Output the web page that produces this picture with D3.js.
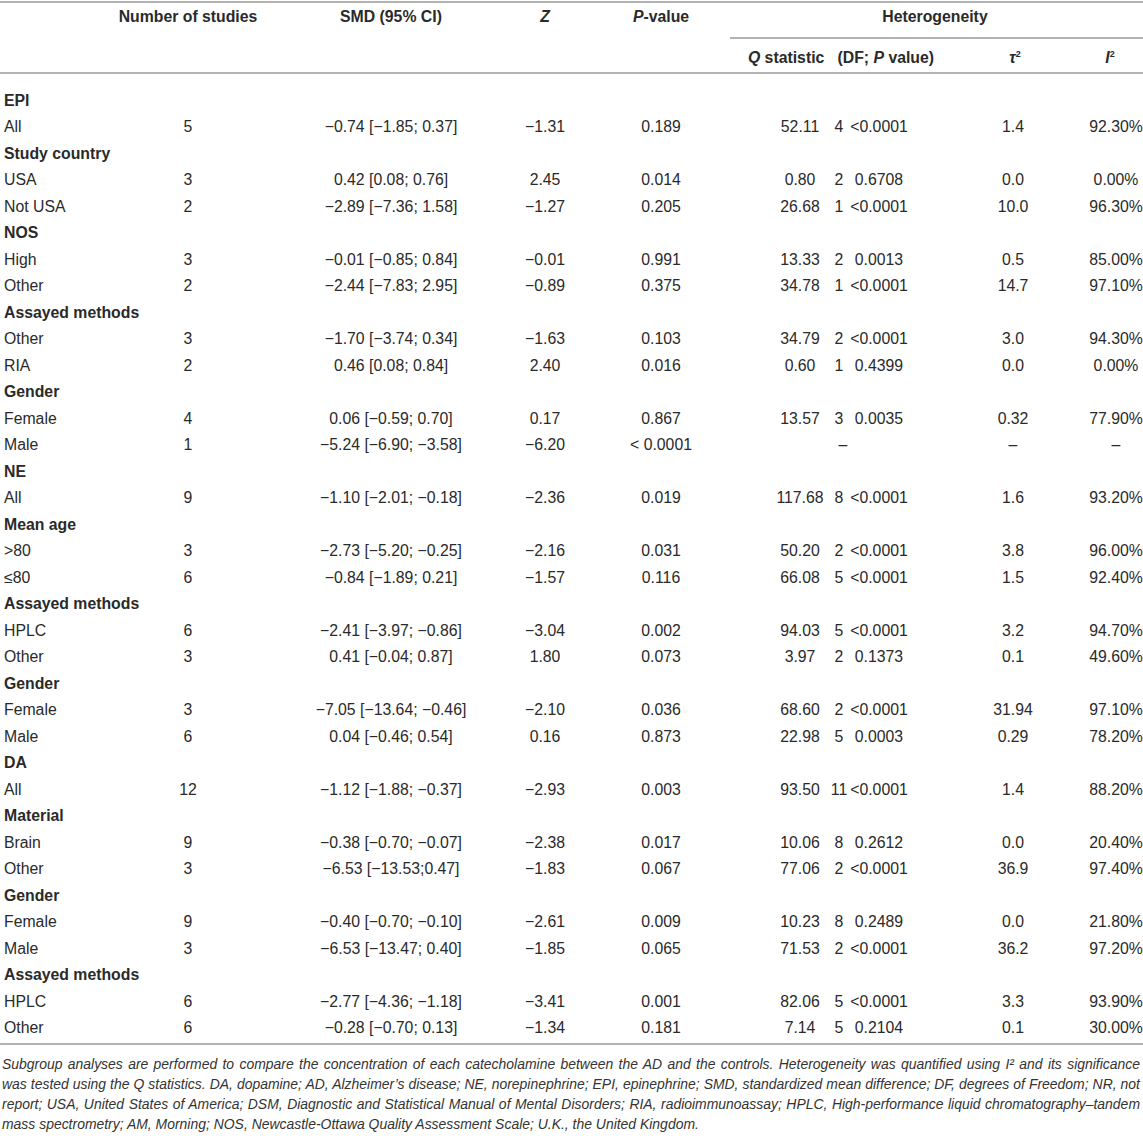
<!DOCTYPE html>
<html>
<head>
<meta charset="utf-8">
<script src="https://cdn.jsdelivr.net/npm/d3@7"></script>
<style>
  html, body { margin: 0; padding: 0; background: #ffffff; }
  svg { display: block; font-family: "Liberation Sans", Arial, Helvetica, sans-serif; }
</style>
</head>
<body>
<div id="table-container"></div>
<script>
// Subgroup analyses table: EPI / NE / DA
// group rows carry an empty string in every value column

var rowLabels = [
    "EPI", "All",
    "Study country", "USA", "Not USA",
    "NOS", "High", "Other",
    "Assayed methods", "Other", "RIA",
    "Gender", "Female", "Male",
    "NE", "All",
    "Mean age", ">80", "\u226480",
    "Assayed methods", "HPLC", "Other",
    "Gender", "Female", "Male",
    "DA", "All",
    "Material", "Brain", "Other",
    "Gender", "Female", "Male",
    "Assayed methods", "HPLC", "Other"
];

var groupRows = [0, 2, 5, 8, 11, 14, 16, 19, 22, 25, 27, 30, 33];

var nStudies = ["", "5", "", "3", "2", "", "3", "2", "", "3", "2", "", "4", "1",
    "", "9", "", "3", "6", "", "6", "3", "", "3", "6",
    "", "12", "", "9", "3", "", "9", "3", "", "6", "6"];

var smdCI = ["", "\u22120.74 [\u22121.85; 0.37]",
    "", "0.42 [0.08; 0.76]", "\u22122.89 [\u22127.36; 1.58]",
    "", "\u22120.01 [\u22120.85; 0.84]", "\u22122.44 [\u22127.83; 2.95]",
    "", "\u22121.70 [\u22123.74; 0.34]", "0.46 [0.08; 0.84]",
    "", "0.06 [\u22120.59; 0.70]", "\u22125.24 [\u22126.90; \u22123.58]",
    "", "\u22121.10 [\u22122.01; \u22120.18]",
    "", "\u22122.73 [\u22125.20; \u22120.25]", "\u22120.84 [\u22121.89; 0.21]",
    "", "\u22122.41 [\u22123.97; \u22120.86]", "0.41 [\u22120.04; 0.87]",
    "", "\u22127.05 [\u221213.64; \u22120.46]", "0.04 [\u22120.46; 0.54]",
    "", "\u22121.12 [\u22121.88; \u22120.37]",
    "", "\u22120.38 [\u22120.70; \u22120.07]", "\u22126.53 [\u221213.53;0.47]",
    "", "\u22120.40 [\u22120.70; \u22120.10]", "\u22126.53 [\u221213.47; 0.40]",
    "", "\u22122.77 [\u22124.36; \u22121.18]", "\u22120.28 [\u22120.70; 0.13]"];

var zValues = ["", "\u22121.31", "", "2.45", "\u22121.27", "", "\u22120.01", "\u22120.89",
    "", "\u22121.63", "2.40", "", "0.17", "\u22126.20",
    "", "\u22122.36", "", "\u22122.16", "\u22121.57", "", "\u22123.04", "1.80",
    "", "\u22122.10", "0.16",
    "", "\u22122.93", "", "\u22122.38", "\u22121.83", "", "\u22122.61", "\u22121.85",
    "", "\u22123.41", "\u22121.34"];

var pValues = ["", "0.189", "", "0.014", "0.205", "", "0.991", "0.375",
    "", "0.103", "0.016", "", "0.867", "< 0.0001",
    "", "0.019", "", "0.031", "0.116", "", "0.002", "0.073", "", "0.036", "0.873",
    "", "0.003", "", "0.017", "0.067", "", "0.009", "0.065", "", "0.001", "0.181"];

var qStat = ["", "52.11", "", "0.80", "26.68", "", "13.33", "34.78",
    "", "34.79", "0.60", "", "13.57", "",
    "", "117.68", "", "50.20", "66.08", "", "94.03", "3.97", "", "68.60", "22.98",
    "", "93.50", "", "10.06", "77.06", "", "10.23", "71.53", "", "82.06", "7.14"];

var dfValues = ["", "4", "", "2", "1", "", "2", "1", "", "2", "1", "", "3", "\u2013",
    "", "8", "", "2", "5", "", "5", "2", "", "2", "5",
    "", "11", "", "8", "2", "", "8", "2", "", "5", "5"];

var qPValues = ["", "<0.0001", "", "0.6708", "<0.0001", "", "0.0013", "<0.0001",
    "", "<0.0001", "0.4399", "", "0.0035", "",
    "", "<0.0001", "", "<0.0001", "<0.0001", "", "<0.0001", "0.1373", "", "<0.0001", "0.0003",
    "", "<0.0001", "", "0.2612", "<0.0001", "", "0.2489", "<0.0001", "", "<0.0001", "0.2104"];

var tauValues = ["", "1.4", "", "0.0", "10.0", "", "0.5", "14.7", "", "3.0", "0.0", "", "0.32", "\u2013",
    "", "1.6", "", "3.8", "1.5", "", "3.2", "0.1", "", "31.94", "0.29",
    "", "1.4", "", "0.0", "36.9", "", "0.0", "36.2", "", "3.3", "0.1"];

var i2Values = ["", "92.30%", "", "0.00%", "96.30%", "", "85.00%", "97.10%",
    "", "94.30%", "0.00%", "", "77.90%", "\u2013",
    "", "93.20%", "", "96.00%", "92.40%", "", "94.70%", "49.60%", "", "97.10%", "78.20%",
    "", "88.20%", "", "20.40%", "97.40%", "", "21.80%", "97.20%", "", "93.90%", "30.00%"];

var footnoteLines = [
    "Subgroup analyses are performed to compare the concentration of each catecholamine between the AD and the controls. Heterogeneity was quantified using I\u00b2 and its significance",
    "was tested using the Q statistics. DA, dopamine; AD, Alzheimer\u2019s disease; NE, norepinephrine; EPI, epinephrine; SMD, standardized mean difference; DF, degrees of Freedom; NR, not",
    "report; USA, United States of America; DSM, Diagnostic and Statistical Manual of Mental Disorders; RIA, radioimmunoassay; HPLC, High-performance liquid chromatography\u2013tandem",
    "mass spectrometry; AM, Morning; NOS, Newcastle-Ottawa Quality Assessment Scale; U.K., the United Kingdom."
];

(function() {

    var width = 1143;
    var height = 1140;
    var textColor = "#2a2a2a";
    var ruleColor = "#b3b3b3";
    var bodySize = "15.8px";

    var svg = d3.select("#table-container")
        .append("svg")
        .attr("width", width)
        .attr("height", height);

    // Column positions
    var columnKeys = ["label", "n", "smd", "z", "p", "q", "df", "qp", "tau", "i2"];
    var columnX = d3.scaleOrdinal()
        .domain(columnKeys)
        .range([4, 188, 391, 545, 661, 800, 839, 879, 1013, 1116]);

    // Row positions
    var rowIndex = d3.range(rowLabels.length);
    var y = d3.scaleBand()
        .domain(rowIndex)
        .range([87, 87 + 26.5 * rowLabels.length]);

    function rowY(i) {
        return y(i) + y.bandwidth() / 2 + 5.5;
    }

    // Rules
    function rule(x1, x2, yy) {
        svg.append("line")
            .attr("x1", x1).attr("x2", x2)
            .attr("y1", yy).attr("y2", yy)
            .attr("stroke", ruleColor)
            .attr("stroke-width", 2);
    }

    rule(0, width, 2);
    rule(730, width, 38);
    rule(0, width, 73);
    var tableBottom = y.range()[1] + 3;
    rule(0, width, tableBottom);

    // Header
    var header = svg.append("g")
        .attr("font-size", bodySize)
        .attr("font-weight", "bold")
        .attr("fill", textColor)
        .attr("text-anchor", "middle");

    header.append("text")
        .attr("x", columnX("n")).attr("y", 22)
        .text("Number of studies");

    header.append("text")
        .attr("x", columnX("smd")).attr("y", 22)
        .text("SMD (95% CI)");

    header.append("text")
        .attr("x", columnX("z")).attr("y", 22)
        .attr("font-style", "italic")
        .text("Z");

    var pHead = header.append("text")
        .attr("x", columnX("p")).attr("y", 22);
    pHead.append("tspan").attr("font-style", "italic").text("P");
    pHead.append("tspan").text("-value");

    header.append("text")
        .attr("x", 935).attr("y", 22)
        .text("Heterogeneity");

    var qHead = header.append("text")
        .attr("x", 841).attr("y", 63);
    qHead.append("tspan").attr("font-style", "italic").text("Q");
    qHead.append("tspan").text(" statistic\u00a0\u00a0\u00a0(DF; ");
    qHead.append("tspan").attr("font-style", "italic").text("P");
    qHead.append("tspan").text(" value)");

    var tauHead = header.append("text")
        .attr("x", 1015).attr("y", 63);
    tauHead.append("tspan").attr("font-style", "italic").text("\u03c4");
    tauHead.append("tspan").attr("font-size", "9px").attr("dy", -6).text("2");

    var i2Head = header.append("text")
        .attr("x", 1110).attr("y", 63);
    i2Head.append("tspan").attr("font-style", "italic").text("I");
    i2Head.append("tspan").attr("font-size", "9px").attr("dy", -6).text("2");

    // Body
    var body = svg.append("g")
        .attr("font-size", bodySize)
        .attr("fill", textColor);

    body.selectAll(".row-label")
        .data(rowIndex)
        .enter()
        .append("text")
        .attr("class", "row-label")
        .attr("x", columnX("label"))
        .attr("y", function(i) { return rowY(i); })
        .attr("font-weight", function(i) {
            return groupRows.indexOf(i) >= 0 ? "bold" : "normal";
        })
        .text(function(i) { return rowLabels[i]; });

    var valueColumns = [
        { key: "n", values: nStudies },
        { key: "smd", values: smdCI },
        { key: "z", values: zValues },
        { key: "p", values: pValues },
        { key: "q", values: qStat },
        { key: "df", values: dfValues },
        { key: "qp", values: qPValues },
        { key: "tau", values: tauValues },
        { key: "i2", values: i2Values }
    ];

    valueColumns.forEach(function(col) {
        body.selectAll(".cell-" + col.key)
            .data(rowIndex.filter(function(i) { return col.values[i] !== ""; }))
            .enter()
            .append("text")
            .attr("class", "cell-" + col.key)
            .attr("x", function(i) {
                // the single dash of the empty Male row sits mid Q/DF/P
                if (col.key === "df" && qStat[i] === "") {
                    return 843;
                }
                return columnX(col.key);
            })
            .attr("y", function(i) { return rowY(i); })
            .attr("text-anchor", "middle")
            .text(function(i) { return col.values[i]; });
    });

    // Footnote: one font size that lets the longest line fit, then justify
    var footSize = 14.2;
    var target = width - 5;

    var foot = svg.append("g")
        .attr("font-style", "italic")
        .attr("fill", "#333333");

    var footTexts = footnoteLines.map(function(line, k) {
        return foot.append("text")
            .attr("x", 2)
            .attr("y", tableBottom + 25 + k * 20)
            .attr("font-size", footSize + "px")
            .text(line);
    });

    var longest = d3.max(footTexts, function(t) {
        return t.node().getComputedTextLength();
    });

    if (longest > target) {
        footSize = footSize * target / longest - 0.05;
        footTexts.forEach(function(t) {
            t.attr("font-size", footSize + "px");
        });
    }

    footTexts.forEach(function(t, k) {
        if (k === footTexts.length - 1) {
            return;
        }
        var natural = t.node().getComputedTextLength();
        var gaps = footnoteLines[k].split(" ").length - 1;
        if (gaps > 0 && natural < target) {
            t.attr("word-spacing", ((target - natural) / gaps) + "px");
        }
    });

})();
</script>
</body>
</html>
